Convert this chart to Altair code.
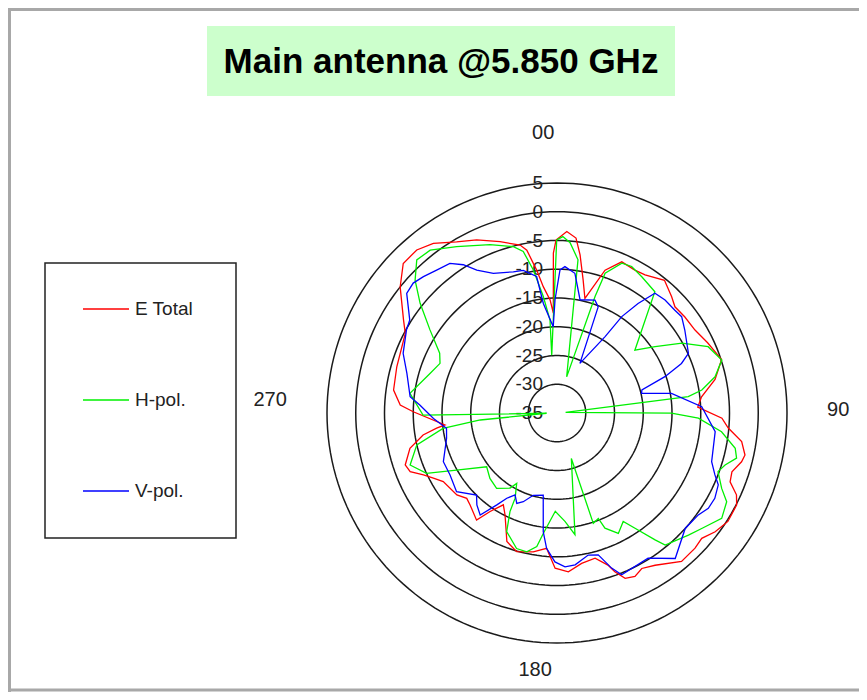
import altair as alt
import pandas as pd

# ---------------- data (angle in degrees clockwise from top, level in dB) -------------
red_angle = [359.7, 3.1, 6.2, 8.3, 11.1, 13.7, 18.6, 23.2, 28.6, 32.5, 39, 44.6, 48, 53, 59, 65, 72, 78,
             83.6, 87.6, 91.8, 95, 98.8, 102.6, 104.8, 108.6, 111.7, 114.5, 117.1, 122.4, 126.9, 130.9,
             134.4, 140, 147.2, 151.4, 154.5, 157.6, 160, 161.5, 165.3, 170.7, 175.9, 180.7, 184.4,
             189.7, 196.2, 201.3, 207, 210.3, 214.2, 216.9, 223.4, 226.6, 230.7, 238.9, 242.2, 245.1,
             248.2, 251.1, 256.5, 260.7, 262.8, 263.9, 270.5, 272.9, 278, 286.1, 297.7, 301.2, 308.8,
             314.2, 319.3, 323.9, 329.6, 335.1, 341.6, 347.6, 349.5, 351.9, 353.8, 356.5, 357.9, 358.7,
             359.7]
red_db = [-4.9, -3.4, -4.4, -7.2, -11.4, -14.5, -8.8, -6.4, -6.7, -6.5, -5.3, -6.6, -7.4, -7.2, -7.0,
          -6.1, -4.9, -6.9, -9.7, -10.5, -6.3, -5.1, -2.5, -1.5, -1.8, -2.9, -2.6, -0.7, 0.1, 0.2, -0.6,
          -1.7, -1.4, -1.3, -3.5, -4.2, -3.5, -3.9, -5.6, -7.1, -8.9, -8.5, -7.3, -8.0, -11.4, -10.5,
          -9.9, -11.0, -15.1, -16.5, -14.3, -11.7, -13.0, -13.4, -12.5, -11.9, -10.7, -9.4, -7.5, -7.1,
          -8.7, -11.4, -13.9, -15.4, -10.0, -7.7, -6.3, -6.0, -5.2, -3.8, 0.0, 2.3, 2.4, 1.5, -0.5,
          -1.8, -3.6, -5.1, -6.2, -9.9, -12.9, -15.3, -17.6, -7.2, -4.9]

green_angle = [359.9, 1.9, 4.4, 7.8, 15, 18.1, 19, 23.4, 27, 31.9, 38.9, 51.1, 55.9, 60.8, 66.3, 72.2,
               77.1, 81, 82.9, 86, 90.1, 92.1, 96.5, 101.2, 104.1, 107.2, 110, 114.6, 117.6, 122.6,
               128.6, 132.9, 140.7, 142.3, 145.9, 148.6, 153, 157.4, 158.6, 161.8, 162.5, 171.6, 175.8,
               181, 186.5, 188.6, 192.3, 196.6, 203, 205.5, 206.2, 209.8, 212, 218.7, 225.7, 232.6,
               240.4, 245.2, 250.5, 257.2, 262.3, 264.8, 268.5, 269.1, 277.6, 287.4, 293, 297, 303.2,
               308.7, 313.1, 317.5, 322.1, 328.9, 338.3, 345.3, 348.2, 350.6, 353.3, 355.7, 354.8, 359.9]
green_db = [-4.9, -4.3, -5.3, -8.1, -28.5, -13.7, -9.3, -6.6, -6.4, -7.1, -7.9, -17.6, -14.4, -10.1,
            -6.3, -4.9, -6.8, -9.5, -12.0, -33.5, -15.1, -10.4, -6.2, -3.4, -2.8, -4.4, -5.2, -3.5,
            -1.7, -1.0, -2.8, -3.8, -5.3, -7.1, -10.8, -12.9, -11.5, -13.3, -15.3, -14.8, -26.7, -13.6,
            -16.1, -17.9, -13.9, -11.5, -10.3, -10.4, -12.6, -16.0, -18.5, -20.9, -19.6, -18.2, -18.7,
            -19.6, -14.9, -10.0, -7.9, -10.0, -15.0, -21.6, -33.2, -11.7, -9.2, -11.9, -12.9, -12.1,
            -8.6, -4.5, -1.2, 1.1, 0.9, -1.2, -3.5, -5.1, -6.3, -9.8, -14.6, -18.8, -24.9, -4.9]

blue_angle = [359, 1.2, 3.1, 7.3, 11.5, 18.6, 21.2, 24.8, 32.2, 33.9, 36.5, 39.3, 43.7, 48.9, 52.3, 57,
              65.6, 68.3, 71.4, 74.8, 76.9, 80.3, 87.5, 96.7, 107.5, 111.4, 114, 118.4, 122.2, 125.8,
              132, 140.9, 147.9, 158.2, 160.6, 163.8, 167.6, 173.2, 177, 180.8, 184.4, 186.6, 189.5,
              196.1, 200.8, 204, 207.1, 210.5, 213.2, 217, 221.1, 224.4, 231.9, 239.9, 246.8, 257.1,
              262.1, 267.5, 273.3, 276.3, 284.8, 291.2, 298.9, 302.3, 308.5, 312.1, 315.6, 319.9,
              324.4, 327.7, 330.7, 335.5, 342.8, 346.7, 351.5, 352.9, 357.5, 359]
blue_db = [-15.3, -10.1, -9.5, -10.5, -14.9, -14.3, -15.2, -25.5, -19.3, -14.8, -11.3, -8.1, -7.8, -7.8,
           -7.6, -8.5, -9.9, -11.7, -15.2, -19.7, -19.9, -14.8, -9.8, -7.3, -6.8, -5.5, -4.3, -3.8,
           -3.9, -4.7, -5.0, -2.4, -5.2, -4.7, -6.4, -9.3, -9.7, -8.4, -8.2, -9.1, -11.4, -14.2,
           -20.5, -20.1, -18.5, -17.8, -19.0, -17.8, -15.9, -12.8, -13.8, -15.0, -12.8, -13.5, -13.5,
           -15.3, -15.6, -13.5, -11.1, -9.3, -8.0, -6.3, -5.1, -4.7, -1.6, -1.3, -1.8, -2.5, -3.0,
           -4.5, -6.5, -8.3, -9.3, -9.5, -11.0, -15.8, -20.0, -15.3]

series_names = ["E Total", "H-pol.", "V-pol."]
series_colors = ["#FF0000", "#00F000", "#0000FF"]

ring_values = [5, 0, -5, -10, -15, -20, -25, -30]
ring_label_values = [5, 0, -5, -10, -15, -20, -25, -30, -35]

dir_labels = ["00", "90", "180", "270"]
dir_angles = [0, 90, 180, 270]
dir_radius = [48.7, 48.9, 44.7, 49.9]      # radial position (dB + 35 units)
dir_shift_x = [-2.4, 0.0, -3.8, 0.0]       # small offsets, same units
dir_shift_y = [0.0, 0.5, 0.0, 2.3]

title_text = "Main antenna @5.850 GHz"

# ---------------- layout constants ----------------
DB_MIN = -35.0
PX_PER_UNIT = 5.75
W, H = 851, 684
CX, CY = 549, 405          # polar centre in plot pixels
FONT = "Liberation Sans, Arial, sans-serif"

xscale = alt.Scale(domain=[-CX / PX_PER_UNIT, (W - CX) / PX_PER_UNIT], nice=False, zero=False)
yscale = alt.Scale(domain=[-(H - CY) / PX_PER_UNIT, CY / PX_PER_UNIT], nice=False, zero=False)

polar_calc = dict(
    r=f"datum.db - ({DB_MIN})",
    px=f"datum.r * sin(datum.angle * PI / 180)",
    py=f"datum.r * cos(datum.angle * PI / 180)",
)

# ---------------- tables ----------------
rows = []
for name, angs, dbs in zip(series_names, [red_angle, green_angle, blue_angle], [red_db, green_db, blue_db]):
    for i, (a, d) in enumerate(zip(angs, dbs)):
        rows.append({"series": name, "idx": i, "angle": a, "db": d})
pattern = pd.DataFrame(rows)

ring_rows = []
for rv in ring_values:
    for a in range(0, 361, 2):
        ring_rows.append({"ring": rv, "angle": a, "db": rv})
rings_df = pd.DataFrame(ring_rows)

ring_lab_df = pd.DataFrame({"db": ring_label_values, "angle": 0, "txt": [str(v) for v in ring_label_values]})

dir_df = pd.DataFrame({"txt": dir_labels, "angle": dir_angles, "rad": dir_radius,
                       "sx": dir_shift_x, "sy": dir_shift_y})

one = pd.DataFrame({"k": [0]})

X = lambda f: alt.X(f, type="quantitative", scale=xscale, axis=None)
Y = lambda f: alt.Y(f, type="quantitative", scale=yscale, axis=None)

# ---------------- layers ----------------
frame_left = alt.Chart(one).mark_rule(color="#A8A8A8", strokeWidth=3).encode(
    x=alt.value(1.5), y=alt.value(0), y2=alt.value(H))
frame_top = alt.Chart(one).mark_rule(color="#A8A8A8", strokeWidth=3).encode(
    x=alt.value(0), x2=alt.value(W), y=alt.value(1.5))
frame_bottom = alt.Chart(one).mark_rule(color="#A8A8A8", strokeWidth=3).encode(
    x=alt.value(0), x2=alt.value(W), y=alt.value(H - 2))

title_box = alt.Chart(one).mark_rect(color="#CCFFCC").encode(
    x=alt.value(199), x2=alt.value(667), y=alt.value(18), y2=alt.value(88))
title = alt.Chart(one).mark_text(text=title_text, font=FONT, fontSize=35, fontWeight="bold",
                                 color="#000000", align="center", baseline="middle").encode(
    x=alt.value(433), y=alt.value(54))

legend_box = alt.Chart(one).mark_rect(fill=None, stroke="#222222", strokeWidth=1.5).encode(
    x=alt.value(37), x2=alt.value(228), y=alt.value(255), y2=alt.value(530))

rings = alt.Chart(rings_df).transform_calculate(**polar_calc).mark_line(
    color="#1A1A1A", strokeWidth=1.5).encode(
    x=X("px"), y=Y("py"), detail="ring:N", order="angle:Q")

ring_labels = alt.Chart(ring_lab_df).transform_calculate(**polar_calc).mark_text(
    font=FONT, fontSize=19, color="#222222", align="right", baseline="middle", dx=-14).encode(
    x=X("px"), y=Y("py"), text="txt:N")

dir_text = alt.Chart(dir_df).transform_calculate(
    px="datum.rad * sin(datum.angle * PI / 180) + datum.sx",
    py="datum.rad * cos(datum.angle * PI / 180) + datum.sy",
).mark_text(font=FONT, fontSize=20, color="#222222", align="center", baseline="middle").encode(
    x=X("px"), y=Y("py"), text="txt:N")

lines = alt.Chart(pattern).transform_calculate(**polar_calc).mark_line(strokeWidth=1.3).encode(
    x=X("px"), y=Y("py"), order="idx:Q",
    color=alt.Color("series:N",
                    scale=alt.Scale(domain=series_names, range=series_colors),
                    sort=series_names,
                    legend=alt.Legend(title=None, orient="none", legendX=74, legendY=277,
                                      symbolType="stroke", symbolSize=2116, symbolStrokeWidth=1.5,
                                      labelFont=FONT, labelFontSize=19, labelColor="#222222",
                                      labelOffset=5, rowPadding=57, padding=0)))

chart = alt.layer(frame_left, frame_top, frame_bottom, title_box, title, legend_box,
                  rings, ring_labels, dir_text, lines).properties(
    width=W, height=H, padding=0, autosize="none",
).configure_view(stroke=None)

chart.save("out.html", embed_options={"renderer": "svg", "actions": False})
